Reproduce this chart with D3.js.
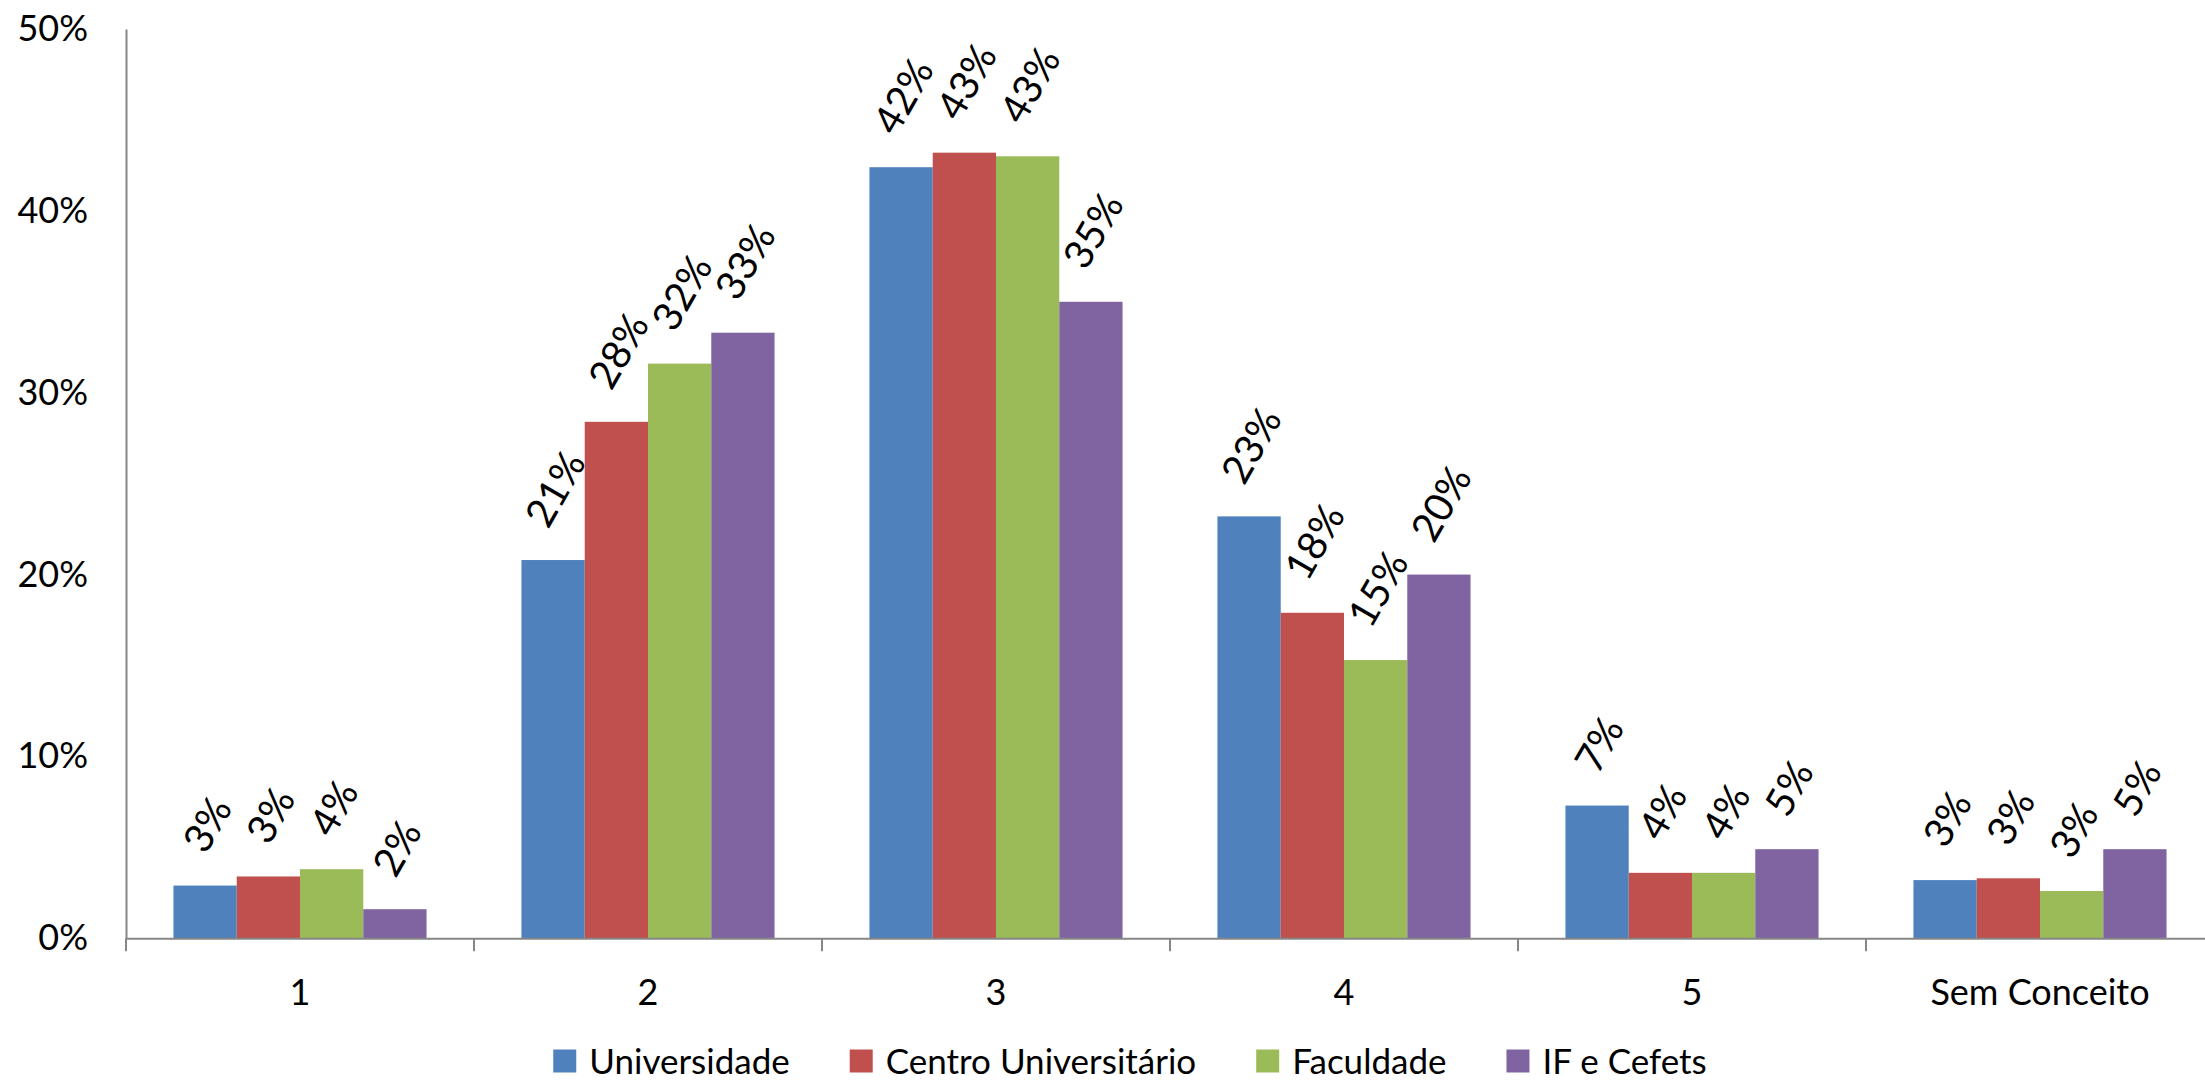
<!DOCTYPE html>
<html>
<head>
<meta charset="utf-8">
<script src="https://cdn.jsdelivr.net/npm/d3@7"></script>
<style>
  html, body { margin: 0; padding: 0; background: #fff; }
  svg { display: block; font-family: Lato, "Open Sans", sans-serif; }
</style>
</head>
<body>
<svg id="chart" width="2205" height="1082"></svg>
<script>
const categories = ["1", "2", "3", "4", "5", "Sem Conceito"];
const seriesNames = ["Universidade", "Centro Universitário", "Faculdade", "IF e Cefets"];
const universidade = [2.9, 20.8, 42.4, 23.2, 7.3, 3.2];
const centroUniversitario = [3.4, 28.4, 43.2, 17.9, 3.6, 3.3];
const faculdade = [3.8, 31.6, 43.0, 15.3, 3.6, 2.6];
const ifCefets = [1.6, 33.3, 35.0, 20.0, 4.9, 4.9];
const yTicks = [0, 10, 20, 30, 40, 50];
const colors = ["#4F81BD", "#C0504D", "#9BBB59", "#8064A2"];

const seriesValues = [universidade, centroUniversitario, faculdade, ifCefets];

const svg = d3.select("#chart");
const plot = { left: 126, right: 2214, top: 29, bottom: 938.3 };

const x = d3.scaleBand().domain(categories).range([plot.left, plot.right]).paddingInner(0).paddingOuter(0);
const y = d3.scaleLinear().domain([0, 50]).range([plot.bottom, plot.top]);

// group layout: gap width 150%
const bw = x.bandwidth();
const barW = bw / (seriesNames.length + 1.5);
const groupW = barW * seriesNames.length;
const xs = d3.scaleBand().domain(seriesNames).range([(bw - groupW) / 2, (bw + groupW) / 2]).padding(0);

// Bars
const groups = svg.append("g").selectAll("g.cat")
  .data(categories)
  .join("g")
  .attr("class", "cat")
  .attr("transform", c => `translate(${x(c)},0)`);

const barData = (c, ci) => seriesNames.map((s, si) => ({ c, ci, s, si, v: seriesValues[si][ci] }));

groups.selectAll("rect")
  .data((c, ci) => barData(c, ci))
  .join("rect")
  .attr("x", d => xs(d.s))
  .attr("width", xs.bandwidth())
  .attr("y", d => y(d.v))
  .attr("height", d => y(0) - y(d.v))
  .attr("fill", (d) => colors[d.si]);

// Y axis
const yAxis = d3.axisLeft(y)
  .tickValues(yTicks)
  .tickFormat(d => d + "%")
  .tickSize(0)
  .tickPadding(38);
const gy = svg.append("g").attr("transform", `translate(${plot.left},0)`).call(yAxis);
gy.select(".domain").attr("stroke", "#868686").attr("stroke-width", 2);
gy.selectAll("text").attr("font-size", 36).attr("fill", "#000").attr("font-family", "Lato, 'Open Sans', sans-serif");

// X axis
const xAxis = d3.axisBottom(x).tickSize(0).tickPadding(41);
const gx = svg.append("g").attr("transform", `translate(0,${plot.bottom})`).call(xAxis);
gx.select(".domain").attr("stroke", "#868686").attr("stroke-width", 2);
gx.selectAll("text").attr("font-size", 36).attr("fill", "#000").attr("font-family", "Lato, 'Open Sans', sans-serif");

// category boundary ticks
const boundaries = categories.map(c => x(c)).concat([x(categories[categories.length - 1]) + bw]);
gx.selectAll("line.bound")
  .data(boundaries)
  .join("line")
  .attr("class", "bound")
  .attr("x1", d => d).attr("x2", d => d)
  .attr("y1", 0).attr("y2", 13)
  .attr("stroke", "#868686").attr("stroke-width", 2);

// Data labels rotated -60
const angle = 60;
const rad = angle * Math.PI / 180;
const labelSize = 40;
const capH = 0.716 * labelSize;
const gap = 30;
const labels = svg.append("g");
categories.forEach((c, ci) => {
  barData(c, ci).forEach(d => {
    const cx = x(c) + xs(d.s) + xs.bandwidth() / 2;
    const t = labels.append("text")
      .attr("font-size", labelSize)
      .attr("fill", "#000")
      .attr("text-anchor", "middle")
      .attr("dy", "0.358em")
      .text(Math.round(d.v) + "%");
    const w = t.node().getComputedTextLength();
    const cy = y(d.v) - gap - (w / 2) * Math.sin(rad) - (capH / 2) * Math.cos(rad);
    t.attr("transform", `translate(${cx + 2},${cy}) rotate(${-angle})`);
  });
});

// Legend
const legend = svg.append("g");
const legendSize = 35;
const sq = 23;
const sqGap = 13;
const itemGap = 60;
let lx = 0;
seriesNames.forEach((s, i) => {
  const g = legend.append("g");
  g.append("rect").attr("x", 0).attr("y", -sq / 2).attr("width", sq).attr("height", sq).attr("fill", colors[i]);
  const t = g.append("text").attr("x", sq + sqGap).attr("dy", "0.358em")
    .attr("font-size", legendSize).attr("fill", "#000").text(s);
  const w = t.node().getComputedTextLength();
  g.attr("transform", `translate(${lx},0)`);
  lx += sq + sqGap + w + itemGap;
});
const totalW = lx - itemGap;
const legendCenter = 1130;
legend.attr("transform", `translate(${legendCenter - totalW / 2},1061)`);
</script>
</body>
</html>
